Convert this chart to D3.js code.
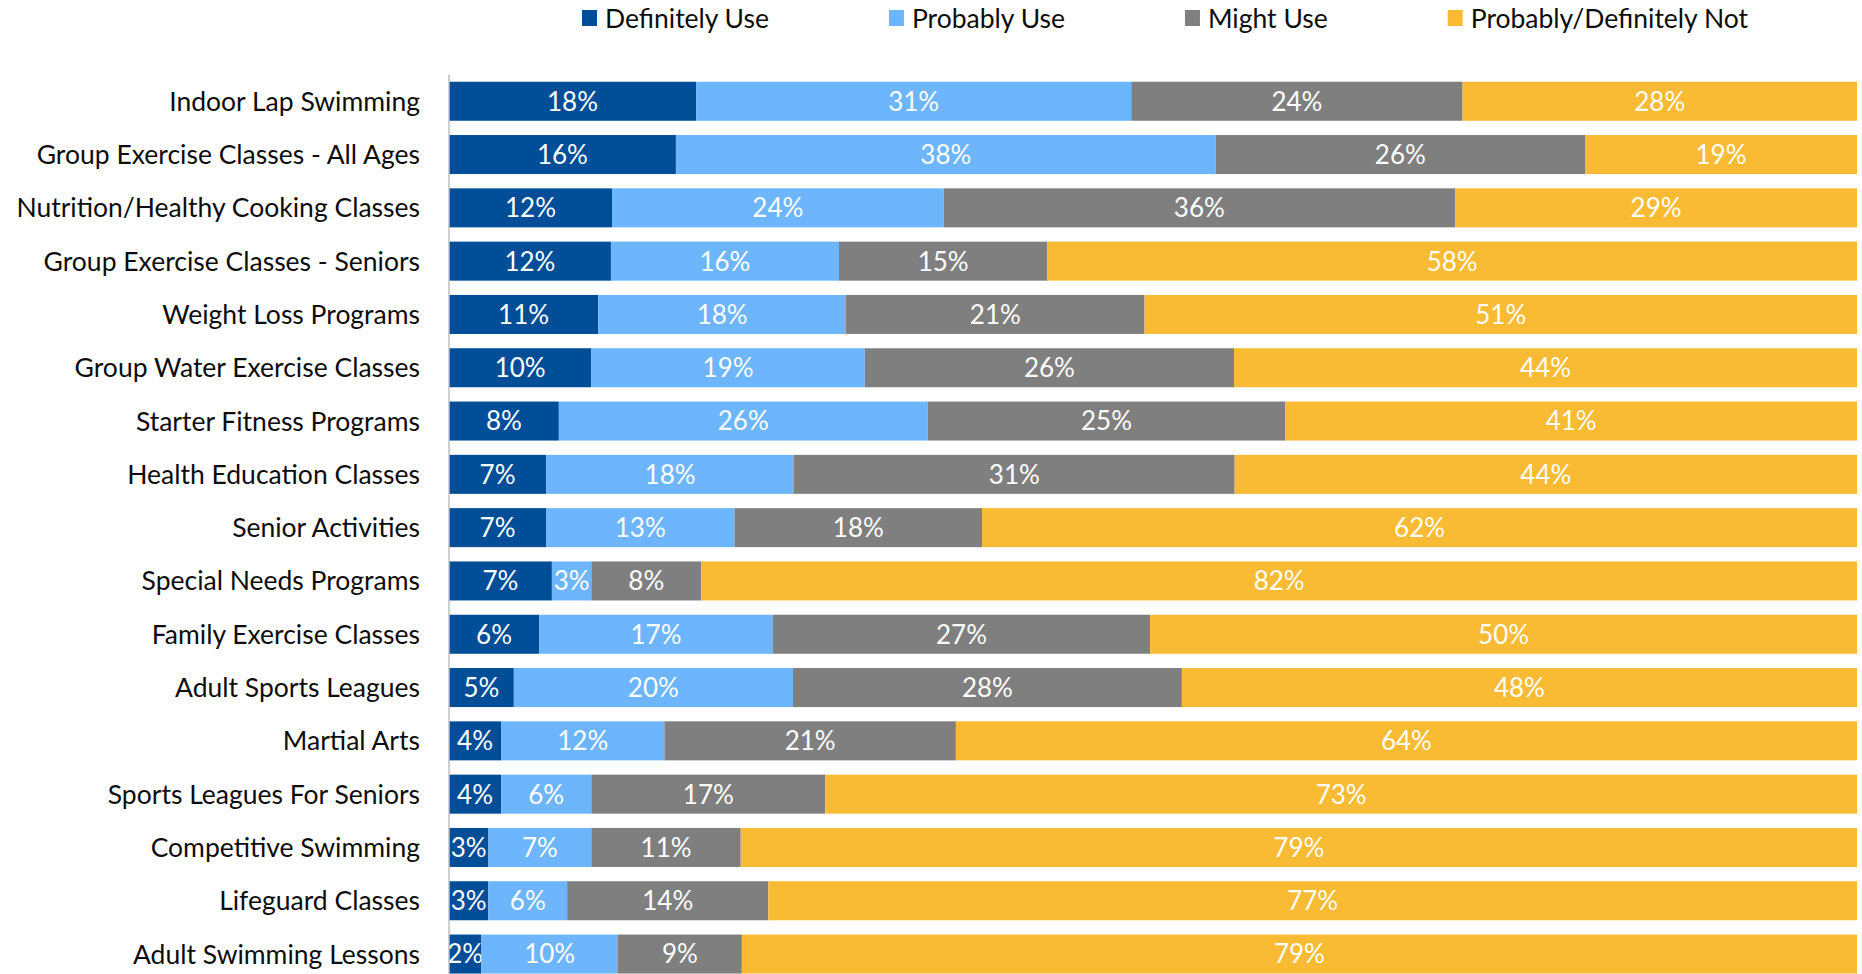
<!DOCTYPE html>
<html>
<head>
<meta charset="utf-8">
<script src="https://cdn.jsdelivr.net/npm/d3@7"></script>
<style>
  html, body { margin: 0; padding: 0; background: #ffffff; }
  svg { display: block; }
  text { font-family: Lato, "Open Sans", sans-serif; }
</style>
</head>
<body>
<svg id="chart" width="1862" height="974"></svg>
<script>
const categories = [
  "Indoor Lap Swimming",
  "Group Exercise Classes - All Ages",
  "Nutrition/Healthy Cooking Classes",
  "Group Exercise Classes - Seniors",
  "Weight Loss Programs",
  "Group Water Exercise Classes",
  "Starter Fitness Programs",
  "Health Education Classes",
  "Senior Activities",
  "Special Needs Programs",
  "Family Exercise Classes",
  "Adult Sports Leagues",
  "Martial Arts",
  "Sports Leagues For Seniors",
  "Competitive Swimming",
  "Lifeguard Classes",
  "Adult Swimming Lessons"
];
const seriesNames = ["Definitely Use", "Probably Use", "Might Use", "Probably/Definitely Not"];
const definitelyUse = [17.6, 16.1, 11.6, 11.5, 10.6, 10.1, 7.8, 6.9, 6.9, 7.3, 6.4, 4.6, 3.7, 3.7, 2.8, 2.8, 2.3];
const probablyUse   = [31.0, 38.3, 23.6, 16.2, 17.6, 19.4, 26.2, 17.6, 13.4, 2.8, 16.6, 19.8, 11.6, 6.4, 7.3, 5.6, 9.7];
const mightUse      = [23.6, 26.2, 36.4, 14.8, 21.2, 26.2, 25.4, 31.3, 17.6, 7.8, 26.8, 27.6, 20.7, 16.6, 10.6, 14.3, 8.8];
const notUse        = [28.1, 19.3, 28.6, 57.5, 50.6, 44.2, 40.6, 44.2, 62.2, 82.0, 50.2, 47.9, 64.0, 73.2, 79.2, 77.4, 79.2];
const colors = ["#004d98", "#6db5fd", "#7f7f7f", "#f8bb33"];

const rows = categories.map((c, i) => ({
  category: c,
  "Definitely Use": definitelyUse[i],
  "Probably Use": probablyUse[i],
  "Might Use": mightUse[i],
  "Probably/Definitely Not": notUse[i]
}));

const svg = d3.select("#chart");
const plotLeft = 449, plotRight = 1857;
const fontSize = 26.5;

const x = d3.scaleLinear().domain([0, 1]).range([plotLeft, plotRight]);
const y = d3.scaleBand().domain(categories).range([74.6, 980.7]).paddingInner(0.268).paddingOuter(0.134);
const color = d3.scaleOrdinal().domain(seriesNames).range(colors);

const stack = d3.stack().keys(seriesNames).offset(d3.stackOffsetExpand);
const stacked = stack(rows);
const fmt = v => d3.format(".0f")(v) + "%";

const layers = svg.append("g").selectAll("g").data(stacked).join("g")
  .attr("fill", d => color(d.key));

layers.selectAll("rect").data(d => d).join("rect")
  .attr("x", d => x(d[0]))
  .attr("y", d => y(d.data.category))
  .attr("width", d => x(d[1]) - x(d[0]))
  .attr("height", y.bandwidth());

layers.each(function(layer) {
  d3.select(this).selectAll("text").data(layer).join("text")
    .attr("x", d => (x(d[0]) + x(d[1])) / 2)
    .attr("y", d => y(d.data.category) + y.bandwidth() / 2)
    .attr("dy", "0.36em")
    .attr("text-anchor", "middle")
    .attr("fill", "#ffffff")
    .attr("font-size", 26)
    .text(d => fmt(d.data[layer.key]));
});

// category axis
const yAxis = d3.axisLeft(y).tickSize(0).tickPadding(29);
const gy = svg.append("g").attr("transform", `translate(${plotLeft},0)`).call(yAxis);
gy.select(".domain").attr("stroke", "#bfbfbf").attr("stroke-width", 1.5)
  .attr("d", `M0,${y.range()[0]}V${y.range()[1]}`);
gy.selectAll(".tick text")
  .attr("font-size", fontSize)
  .attr("dy", "0.36em")
  .attr("fill", "#0d0d0d")
  .attr("font-family", "Lato, 'Open Sans', sans-serif");

// legend
const legend = svg.append("g");
const items = legend.selectAll("g").data(seriesNames).join("g");
items.append("rect").attr("x", 0).attr("y", 10).attr("width", 15).attr("height", 16)
  .attr("fill", d => color(d));
items.append("text").attr("x", 23).attr("y", 18).attr("dy", "0.36em")
  .attr("font-size", fontSize).attr("fill", "#0d0d0d").text(d => d);
let cursor = 0;
const offsets = [];
items.each(function() {
  offsets.push(cursor);
  const w = 23 + d3.select(this).select("text").node().getComputedTextLength();
  cursor += w + 120;
});
const total = cursor - 120;
const start = 1165 - total / 2;
items.attr("transform", (d, i) => `translate(${start + offsets[i]},0)`);
</script>
</body>
</html>
